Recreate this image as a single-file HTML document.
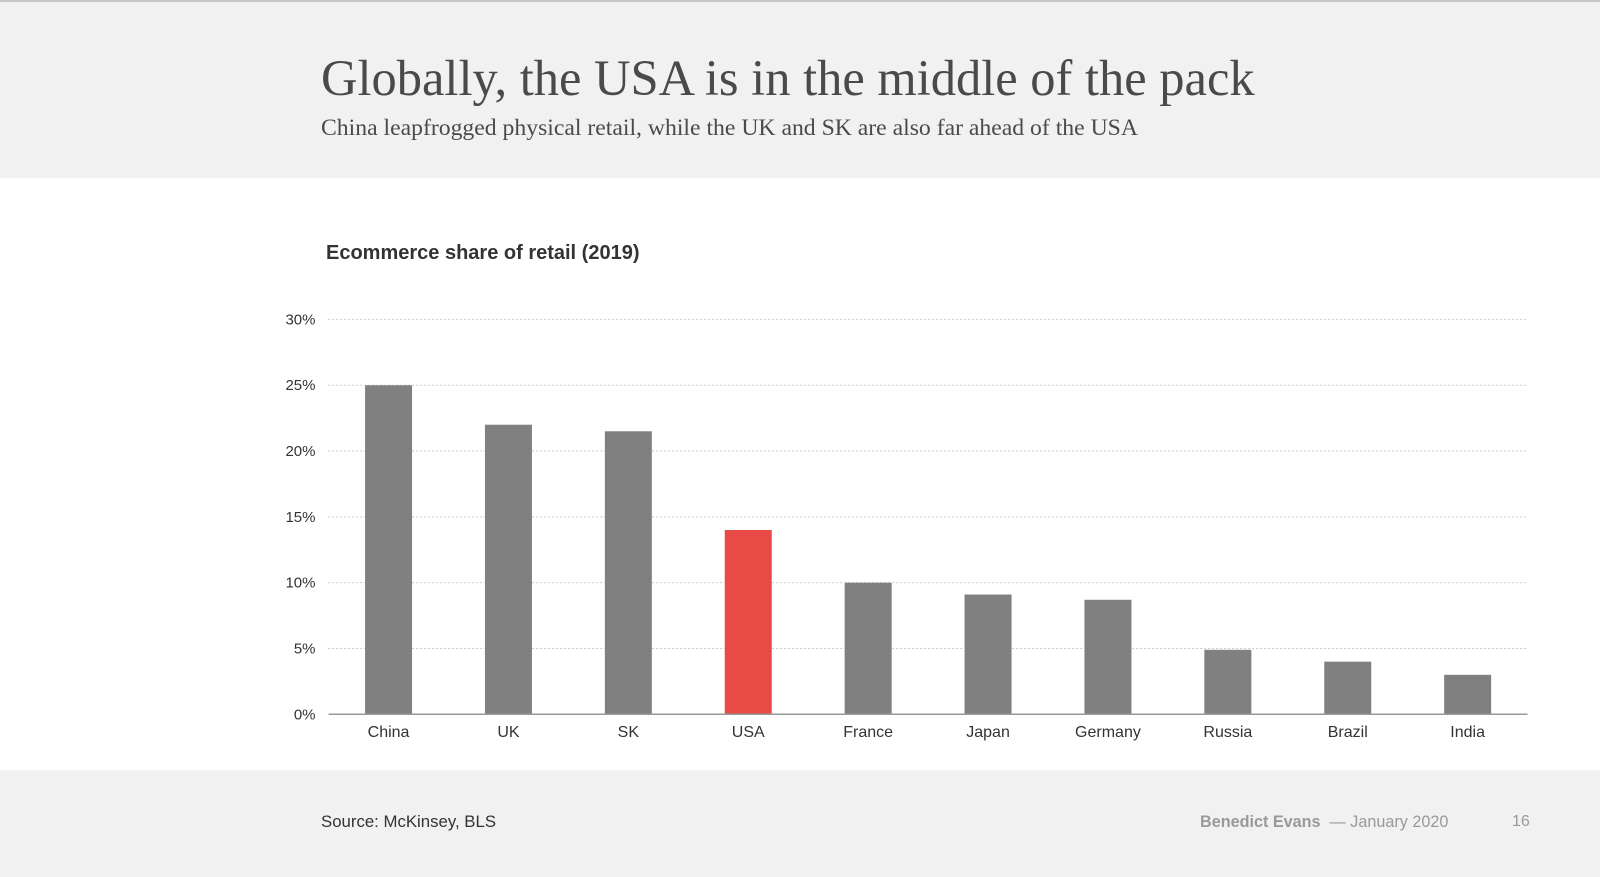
<!DOCTYPE html>
<html><head><meta charset="utf-8"><style>
body{margin:0;width:1600px;height:877px;overflow:hidden;background:#fff;font-family:"Liberation Sans",sans-serif;position:relative}
.top{position:absolute;left:0;top:0;width:1600px;height:178px;background:#f1f1f1;border-top:2px solid #c8c8c8;box-sizing:border-box}
.foot{position:absolute;left:0;top:770px;width:1600px;height:107px;background:#f1f1f1}
.t{position:absolute;white-space:nowrap}
</style></head><body>
<div class="top"></div>
<div class="t" style="left:321px;top:49px;font-family:'Liberation Serif',serif;font-size:50.5px;color:#4a4a4a">Globally, the USA is in the middle of the pack</div>
<div class="t" style="left:321px;top:115px;font-family:'Liberation Serif',serif;font-size:23.7px;color:#4a4a4a">China leapfrogged physical retail, while the UK and SK are also far ahead of the USA</div>
<div class="t" style="left:326px;top:242px;font-size:20px;font-weight:bold;color:#333">Ecommerce share of retail (2019)</div>
<svg width="1600" height="877" style="position:absolute;left:0;top:0">
<g id="g"></g></svg>
<div class="foot"></div>
<div class="t" style="left:321px;top:812px;font-size:16.8px;color:#333">Source: McKinsey, BLS</div>
<div class="t" style="left:1200px;top:813px;font-size:16.2px;color:#999"><b>Benedict Evans</b>&nbsp;&nbsp;— January 2020</div>
<div class="t" style="left:1512px;top:813px;font-size:16px;color:#999">16</div>
<script>
const categories=["China","UK","SK","USA","France","Japan","Germany","Russia","Brazil","India"];
const values=[25,22,21.5,14,10,9.1,8.7,4.9,4.0,3.0];
const highlight=["USA"];
const ticks=[0,5,10,15,20,25,30];
const NS="http://www.w3.org/2000/svg",g=document.getElementById("g");
const x0=328.6,x1=1527.6,y0=714.3,y1=319.4,maxV=30;
const y=v=>y0-(v/maxV)*(y0-y1);
const bw=(x1-x0)/categories.length;
const xc=i=>x0+bw*(i+0.5);
function mk(t,a){const e=document.createElementNS(NS,t);for(const k in a)e.setAttribute(k,a[k]);g.appendChild(e);return e;}
ticks.forEach(t=>{
 if(t>0){const l=mk("line",{x1:x0,x2:x1,y1:y(t),y2:y(t),stroke:"#999","stroke-width":1,"stroke-dasharray":"1 3"});
 
 }
 const tx=mk("text",{x:315.5,y:y(t)+5,"text-anchor":"end","font-size":15,fill:"#333","font-family":"Liberation Sans, sans-serif"});
 tx.textContent=t+"%";
 
 
});
categories.forEach((c,i)=>{
 const r=mk("rect",{x:xc(i)-23.5,y:y(values[i]),width:47,height:y0-y(values[i]),fill:highlight.includes(c)?"#e84a46":"#808080"});
 
 
 const tx=mk("text",{x:xc(i),y:737,"text-anchor":"middle","font-size":16,fill:"#333","font-family":"Liberation Sans, sans-serif"});
 tx.textContent=c;
 
 
});
const ax=mk("line",{x1:x0,x2:x1,y1:y0,y2:y0,stroke:"#999","stroke-width":1.5});


</script>
</body></html>
